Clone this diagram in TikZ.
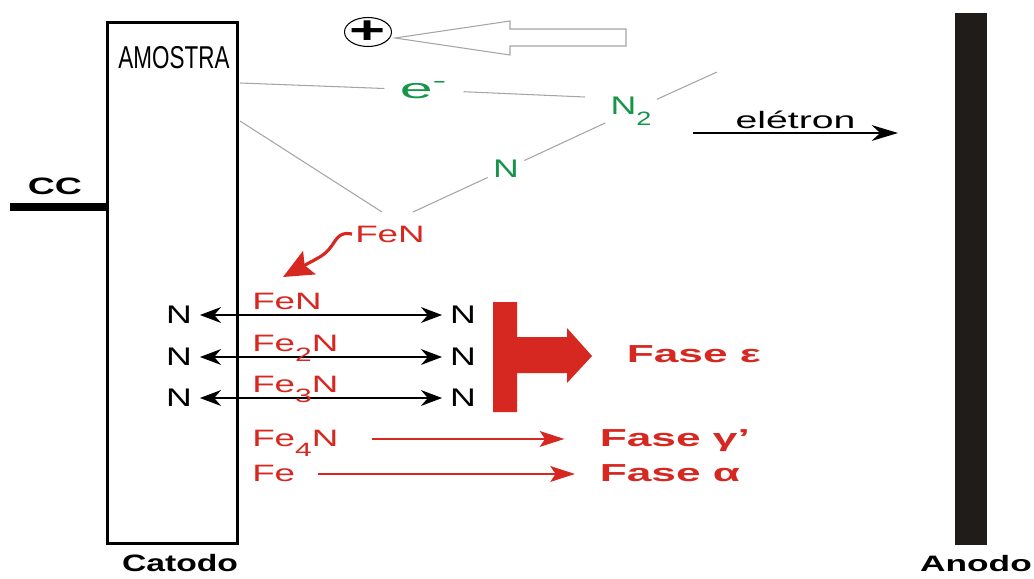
\documentclass[tikz,border=0pt]{standalone}
\usepackage{fontspec}
\setmainfont{Liberation Sans}
\usepackage{graphicx}
\usetikzlibrary{
  arrows.meta,      % Stealth 箭头
  positioning,      % 节点相对定位
  shapes.geometric  % 椭圆节点
}
\definecolor{fered}{RGB}{214,40,32}
\definecolor{ngreen}{RGB}{22,148,72}
\definecolor{lgray}{RGB}{165,165,165}
\definecolor{anodocor}{RGB}{32,28,26}
% 下标（较大、较低）
\newcommand{\indice}[1]{\raisebox{-0.45em}{\fontsize{11}{11}\selectfont #1}}

\begin{document}
\begin{tikzpicture}[>=Stealth, x=0.02cm, y=-0.02cm,
  textonegro/.style={inner sep=2pt, font=\fontsize{14.5}{16}\selectfont, xscale=1.4},
  textoverde/.style={inner sep=2pt, text=ngreen, font=\fontsize{14.5}{16}\selectfont, xscale=1.4},
  textovermelho/.style={inner sep=1pt, text=fered, font=\fontsize{13.5}{15}\selectfont, xscale=1.55},
  fase/.style={inner sep=1pt, text=fered, font=\bfseries\fontsize{14}{16}\selectfont, xscale=1.8},
  rotulo/.style={inner sep=0pt, font=\bfseries\fontsize{13.5}{15}\selectfont},
  linhacinza/.style={draw=lgray, line width=0.6pt},
  dupla/.style={{Stealth[length=12pt,width=9pt]}-{Stealth[length=12pt,width=9pt]}, line width=1.2pt},
  setavermelha/.style={-{Stealth[length=14pt,width=9pt,inset=3pt]}, draw=fered, line width=1pt}
]
  \useasboundingbox (0,0) rectangle (1034,578);

  % 阴极（样品）
  \node[draw, line width=1.7pt, minimum width=2.62cm, minimum height=10.44cm, inner sep=0pt] (catodo) at (172.5,283) {};
  \node[inner sep=0pt, font=\fontsize{18}{18}\selectfont, xscale=0.71] (amostra) at (174,58) {AMOSTRA};
  \node[rotulo, xscale=1.42] (lcatodo) at (180,563) {Catodo};

  % 电源 CC
  \coordinate (fio) at (10,207);
  \draw[line width=4.5pt] (fio) -- (fio -| catodo.west);
  \node[rotulo, xscale=1.58] (cc) at (55,186) {CC};

  % 阳极
  \fill[anodocor] (955,13) rectangle (987,545);
  \node[rotulo, font=\bfseries\fontsize{12.7}{14}\selectfont, xscale=1.58] (lanodo) at (976,564) {Anodo};

  % 正离子与空心箭头
  \node[ellipse, draw, line width=0.6pt, minimum width=0.94cm, minimum height=0.58cm, inner sep=0pt] (ion) at (368,32) {};
  \node[font=\bfseries\fontsize{22}{22}\selectfont, xscale=1.6, inner sep=0pt] (mais) at (ion) {+};
  \draw[linhacinza] (395,38) -- (510,21) -- (510,29) -- (626,29) -- (626,46) -- (510,46) -- (510,55) -- cycle;

  % 气相粒子
  \node[textoverde, font=\fontsize{16}{17}\selectfont, inner xsep=4pt, xscale=1.5] (elec) at (424,90) {e\textsuperscript{-}};
  \node[textoverde] (n2) at (631,111) {N\indice{2}};
  \node[textoverde] (nat) at (506,169) {N};
  \node[textovermelho] (fen) at (390,234) {FeN};

  % 灰色轨迹线
  \coordinate (c1) at (240,83);
  \coordinate (c2) at (585,97);
  \coordinate (c3) at (717,72);
  \coordinate (c4) at (413,212);
  \coordinate (c5) at (240,121);
  \coordinate (c6) at (382,212);
  \draw[linhacinza] (c1) -- (elec);
  \draw[linhacinza] (elec) -- (c2);
  \draw[linhacinza] (c3) -- (n2);
  \draw[linhacinza] (n2) -- (nat);
  \draw[linhacinza] (nat) -- (c4);
  \draw[linhacinza] (c5) -- (c6);

  % 电子
  \coordinate (s1) at (693,133);
  \coordinate (s2) at (898,133);
  \draw[-{Stealth[length=15pt,width=9pt]}, line width=1.2pt] (s1) -- node[above=1pt, inner sep=1pt, font=\fontsize{13.5}{15}\selectfont, xscale=1.65] (leletron) {elétron} (s2);

  % 弯曲箭头
  \coordinate (alvo) at (283,277);
  \draw[fered, line width=1.8pt, -{Stealth[length=17pt,width=15pt,inset=3pt]}] (fen.west) .. controls (338,231) and (336,241) .. (330,248) .. controls (325,255) and (318,258) .. (alvo);

  % 三行 N 扩散
  \foreach \i/\yy/\lab in {1/315/FeN, 2/357/Fe\indice{2}N, 3/398/Fe\indice{3}N} {
    \node[textonegro] (nl\i) at (179,\yy) {N};
    \node[textonegro] (nr\i) at (463,\yy) {N};
    \draw[dupla, shorten <=1.5pt, shorten >=1.5pt] (nl\i) -- (nr\i);
    \node[textovermelho, anchor=base west] (fe\i) at (249,{\yy-6}) {\lab};
  }

  % 红色 T 形箭头
  \fill[fered] (493,302) -- (517,302) -- (517,337) -- (567,337) -- (567,328) -- (592,356)
    -- (567,383) -- (567,373) -- (517,373) -- (517,412) -- (493,412) -- cycle;
  \node[fase, anchor=west] (faseeps) at (623,354) {Fase ε};

  % Fe4N 与 Fe
  \node[textovermelho, anchor=base west] (fe4) at (249,446) {Fe\indice{4}N};
  \node[fase, anchor=base west] (fgama) at (596,446) {Fase γ'};
  \node[textovermelho, anchor=base west] (fe) at (249,481) {Fe};
  \node[fase, anchor=base west] (falfa) at (596,481) {Fase α};
  \draw[setavermelha] ([shift={(17pt,4pt)}]fe4.base east) -- ([shift={(-18pt,4pt)}]fgama.base west);
  \draw[setavermelha] ([shift={(11pt,4pt)}]fe.base east) -- ([shift={(-12pt,4pt)}]falfa.base west);
\end{tikzpicture}
\end{document}
